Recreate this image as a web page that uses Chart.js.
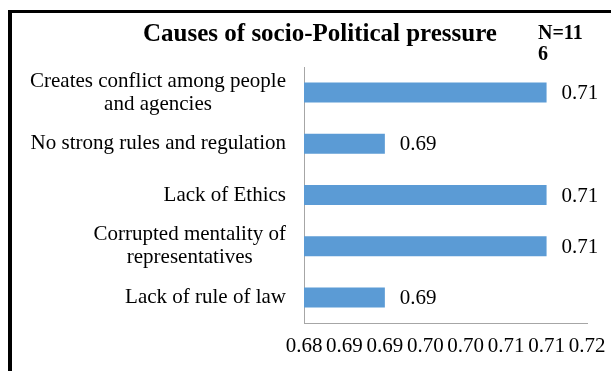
<!DOCTYPE html>
<html>
<head>
<meta charset="utf-8">
<script src="https://cdn.jsdelivr.net/npm/chart.js@4.4.0/dist/chart.umd.min.js"></script>
<style>
  html, body { margin: 0; padding: 0; background: #fff; }
  #wrap { position: relative; width: 611px; height: 371px; }
</style>
</head>
<body>
<div id="wrap"><canvas id="chart"></canvas></div>
<script>
// categories, top to bottom
const causes = [
  ['Creates conflict among people', 'and agencies'],
  ['No strong rules and regulation'],
  ['Lack of Ethics'],
  ['Corrupted mentality of', 'representatives'],
  ['Lack of rule of law']
];
const scores = [0.71, 0.69, 0.71, 0.71, 0.69];
const tickLabels = ['0.68', '0.69', '0.69', '0.70', '0.70', '0.71', '0.71', '0.72'];
const titleText = 'Causes of socio-Political pressure';
const sampleNote = ['N=11', '6'];

const serif = "'Liberation Serif', 'Times New Roman', serif";
const textSize = 21;

// black frame along the top and left edge
const framePlugin = {
  id: 'frame',
  beforeDraw(chart) {
    const ctx = chart.ctx;
    ctx.save();
    ctx.fillStyle = '#fff';
    ctx.fillRect(0, 0, chart.width, chart.height);
    ctx.fillStyle = '#000';
    ctx.fillRect(8, 10, 4, chart.height - 10);
    ctx.fillRect(8, 10, chart.width - 8, 3);
    ctx.restore();
  }
};

// category labels: block right-aligned, lines centred inside the block
const categoryLabels = {
  id: 'categoryLabels',
  afterDraw(chart) {
    const y = chart.scales.y;
    const ctx = chart.ctx;
    ctx.save();
    ctx.font = textSize + 'px ' + serif;
    ctx.fillStyle = '#000';
    ctx.textAlign = 'center';
    ctx.textBaseline = 'middle';
    const right = y.right - 18;
    const lh = 23;
    causes.forEach((lines, i) => {
      const cy = y.getPixelForTick(i);
      const w = Math.max(...lines.map(l => ctx.measureText(l).width));
      const cx = right - w / 2;
      lines.forEach((l, j) => ctx.fillText(l, cx, cy + (j - (lines.length - 1) / 2) * lh));
    });

    // sample size note
    ctx.font = 'bold 20px ' + serif;
    ctx.textAlign = 'left';
    ctx.textBaseline = 'alphabetic';
    ctx.fillText(sampleNote[0], 538, 39);
    ctx.fillText(sampleNote[1], 538, 60);
    ctx.restore();
  }
};

// value at the end of each bar
const valueLabels = {
  id: 'valueLabels',
  afterDatasetsDraw(chart) {
    const ctx = chart.ctx;
    const meta = chart.getDatasetMeta(0);
    ctx.save();
    ctx.font = textSize + 'px ' + serif;
    ctx.fillStyle = '#000';
    ctx.textAlign = 'left';
    ctx.textBaseline = 'middle';
    meta.data.forEach((bar, i) => {
      ctx.fillText(scores[i].toFixed(2), bar.x + 15, bar.y + 1);
    });
    ctx.restore();
  }
};

new Chart(document.getElementById('chart'), {
  type: 'bar',
  data: {
    labels: causes,
    datasets: [{
      data: scores,
      backgroundColor: '#5B9BD5',
      categoryPercentage: 1,
      barPercentage: 0.39
    }]
  },
  options: {
    indexAxis: 'y',
    responsive: true,
    maintainAspectRatio: false,
    animation: false,
    layout: { padding: { left: 53, right: 24, top: 14, bottom: 12 } },
    plugins: {
      legend: { display: false },
      tooltip: { enabled: false },
      title: {
        display: true,
        text: titleText,
        color: '#000',
        font: { family: serif, size: 25, weight: 'bold', lineHeight: 1.2 },
        padding: { top: 6, bottom: 17 }
      }
    },
    scales: {
      x: {
        min: 0.68,
        max: 0.715,
        grid: { display: false, drawTicks: false },
        border: { color: '#a6a6a6' },
        ticks: {
          stepSize: 0.005,
          autoSkip: false,
          maxRotation: 0,
          padding: 11,
          color: '#000',
          font: { family: serif, size: textSize },
          callback: (v, i) => tickLabels[i]
        },
        afterFit(scale) {
          scale.height = 36;
          scale.paddingLeft = 0;
          scale.paddingRight = 0;
        }
      },
      y: {
        grid: { display: false, drawTicks: false },
        border: { color: '#a6a6a6' },
        ticks: { display: false },
        afterFit(scale) { scale.width = 251; }
      }
    }
  },
  plugins: [framePlugin, categoryLabels, valueLabels]
});
</script>
</body>
</html>
